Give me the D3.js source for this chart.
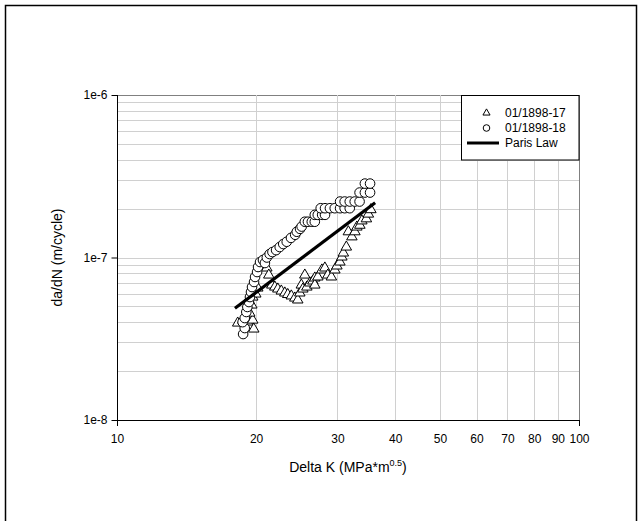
<!DOCTYPE html>
<html><head><meta charset="utf-8">
<script src="https://cdn.jsdelivr.net/npm/d3@7"></script>
<style>html,body{margin:0;padding:0;background:#fff}svg{display:block}</style>
</head><body>
<svg id="chart" width="642" height="521"></svg>
<script>
// ---- data ----
const xTickValues = [10, 20, 30, 40, 50, 60, 70, 80, 90, 100];
const yTickValues = [1e-8, 1e-7, 1e-6];
const yTickLabels = ["1e-8", "1e-7", "1e-6"];
const seriesNames = ["01/1898-17", "01/1898-18", "Paris Law"];

const dk17 = [18.25, 18.72, 19.19, 19.67, 19.77, 19.38, 19.58, 19.67, 19.97, 20.17,
  20.58, 21.10, 21.31, 21.63, 21.96, 22.29, 22.68, 23.08, 23.42, 23.84,
  24.26, 24.62, 24.87, 25.06, 25.25, 25.50, 25.76, 26.15, 26.54, 26.80,
  26.80, 27.21, 27.76, 28.18, 28.60, 29.11, 29.62, 29.92, 30.37, 30.67,
  30.90, 31.36, 31.68, 32.24, 32.73, 33.05, 33.55, 33.88, 34.66, 35.01, 35.44];
const rate17 = [3.95e-8, 4.12e-8, 4.01e-8, 4.12e-8, 3.63e-8, 4.55e-8, 5.10e-8, 5.71e-8, 5.96e-8, 6.49e-8,
  8.87e-8, 8.62e-8, 7.80e-8, 6.77e-8, 6.58e-8, 6.40e-8, 6.22e-8, 6.05e-8, 5.92e-8, 5.80e-8,
  5.63e-8, 5.48e-8, 6.05e-8, 6.77e-8, 6.40e-8, 7.80e-8, 6.58e-8, 6.97e-8, 7.17e-8, 7.48e-8,
  6.77e-8, 7.59e-8, 8.38e-8, 8.62e-8, 7.80e-8, 7.59e-8, 8.38e-8, 8.87e-8, 9.38e-8, 1.007e-7,
  1.066e-7, 1.16e-7, 1.44e-7, 1.34e-7, 1.44e-7, 1.54e-7, 1.58e-7, 1.68e-7, 1.73e-7, 1.85e-7, 1.97e-7];

const dk18 = [18.75, 18.9, 18.7, 18.9, 19.05, 19.15, 19.3, 19.4, 19.5, 19.6,
  19.8, 19.9, 20.1, 20.2, 20.4, 20.7, 20.9, 21.1, 21.4, 21.7,
  22.1, 22.5, 22.9, 23.3, 23.8, 24.3, 24.5, 24.9, 25.1, 25.5,
  25.9, 26.4, 26.8, 26.8, 27.2, 27.8, 28.2, 27.6, 28.2, 28.9,
  29.6, 30.4, 31.1, 31.9, 30.4, 31.1, 31.9, 32.7, 33.5, 33.5,
  34.4, 35.3, 34.4, 35.3];
const rate18 = [3.38e-8, 3.68e-8, 4.0e-8, 4.24e-8, 4.62e-8, 4.96e-8, 5.32e-8, 5.71e-8, 6.13e-8, 6.58e-8,
  7.07e-8, 7.59e-8, 8.14e-8, 8.74e-8, 9.38e-8, 9.65e-8, 9.25e-8, 1.0e-7, 1.05e-7, 1.08e-7,
  1.11e-7, 1.16e-7, 1.21e-7, 1.25e-7, 1.32e-7, 1.38e-7, 1.44e-7, 1.50e-7, 1.55e-7, 1.66e-7,
  1.66e-7, 1.66e-7, 1.66e-7, 1.83e-7, 1.83e-7, 1.83e-7, 1.83e-7, 2.01e-7, 2.01e-7, 2.01e-7,
  2.01e-7, 2.01e-7, 2.01e-7, 2.01e-7, 2.21e-7, 2.21e-7, 2.21e-7, 2.21e-7, 2.21e-7, 2.51e-7,
  2.51e-7, 2.51e-7, 2.85e-7, 2.85e-7];

const parisK = [18.0, 36.2];
const parisRate = [4.87e-8, 2.17e-7];

// ---- drawing ----
const svg = d3.select("#chart");
const font = "'Liberation Sans', Arial, sans-serif";
const L = 117, R = 579, T = 95, B = 420;

svg.append("rect").attr("x", 5.5).attr("y", 5.5).attr("width", 631).attr("height", 520)
  .attr("fill", "#fff").attr("stroke", "#000").attr("stroke-width", 1.5);

const x = d3.scaleLog().domain([10, 100]).range([L, R]);
const y = d3.scaleLog().domain([1e-8, 1e-6]).range([B, T]);

// gridlines
const g = svg.append("g");
const yGrid = [];
[1e-8, 1e-7].forEach(d => { for (let k = 1; k <= 9; k++) yGrid.push(d * k); });
yGrid.push(1e-6);
g.selectAll("line.yg").data(yGrid.filter(v => v > 1.0001e-8)).join("line")
  .attr("x1", L).attr("x2", R)
  .attr("y1", d => Math.round(y(d)) + 0.5).attr("y2", d => Math.round(y(d)) + 0.5)
  .attr("stroke", d => Math.abs(d - 1e-6) < 1e-12 ? "#808080" : "#d0d0d0").attr("stroke-width", 1);
g.selectAll("line.xg").data(xTickValues.slice(1)).join("line")
  .attr("y1", T).attr("y2", B)
  .attr("x1", d => Math.round(x(d)) + 0.5).attr("x2", d => Math.round(x(d)) + 0.5)
  .attr("stroke", d => d === 100 ? "#808080" : "#d0d0d0").attr("stroke-width", 1);

// axes
const xAxis = d3.axisBottom(x).tickValues(xTickValues).tickFormat(d3.format("d")).tickSize(0).tickPadding(14);
const gx = svg.append("g").attr("transform", `translate(0,${B + 0.5})`).call(xAxis);
gx.select(".domain").attr("stroke", "#000").attr("d", `M${L},0H${R}`);
gx.selectAll("text").attr("font-family", font).attr("font-size", 12).attr("fill", "#000");
// major decade ticks on x
svg.selectAll("line.xt").data([10, 100]).join("line")
  .attr("x1", d => Math.round(x(d)) + 0.5).attr("x2", d => Math.round(x(d)) + 0.5)
  .attr("y1", B).attr("y2", B + 6).attr("stroke", "#000");

const yAxis = d3.axisLeft(y).tickValues(yTickValues).tickFormat((d, i) => yTickLabels[i]).tickSize(6).tickPadding(4);
const gy = svg.append("g").attr("transform", `translate(${L + 0.5},0)`).call(yAxis);
gy.select(".domain").attr("stroke", "#000").attr("d", `M0,${T}V${B}`);
gy.selectAll("line").attr("stroke", "#000");
gy.selectAll("text").attr("font-family", font).attr("font-size", 12).attr("fill", "#000");

// axis titles
const xt = svg.append("text").attr("x", (L + R) / 2).attr("y", 472).attr("text-anchor", "middle")
  .attr("font-family", font).attr("font-size", 14).attr("fill", "#000");
xt.append("tspan").text("Delta K (MPa*m");
xt.append("tspan").attr("font-size", 9).attr("dy", -6).text("0.5");
xt.append("tspan").attr("dy", 6).text(")");
svg.append("text").attr("transform", `translate(62,${(T + B) / 2}) rotate(-90)`).attr("text-anchor", "middle")
  .attr("font-family", font).attr("font-size", 14).attr("fill", "#000").text("da/dN (m/cycle)");

// markers
const tri = d3.symbol().type(d3.symbolTriangle).size(48);
const plot = svg.append("g");
plot.selectAll("path.t").data(d3.range(dk17.length)).join("path")
  .attr("d", tri).attr("transform", i => `translate(${x(dk17[i])},${y(rate17[i])})`)
  .attr("fill", "#fff").attr("stroke", "#000").attr("stroke-width", 1);
plot.selectAll("circle.c").data(d3.range(dk18.length)).join("circle")
  .attr("cx", i => x(dk18[i])).attr("cy", i => y(rate18[i])).attr("r", 4.8)
  .attr("fill", "#fff").attr("stroke", "#000").attr("stroke-width", 1);

const line = d3.line().x(i => x(parisK[i])).y(i => y(parisRate[i]));
plot.append("path").attr("d", line(d3.range(parisK.length)))
  .attr("fill", "none").attr("stroke", "#000").attr("stroke-width", 3.2);

// legend
const lg = svg.append("g");
lg.append("rect").attr("x", 461.5).attr("y", 95.5).attr("width", 117.5).attr("height", 64.5)
  .attr("fill", "#fff").attr("stroke", "#000").attr("stroke-width", 1);
const rows = [113, 128, 143];
lg.append("path").attr("d", d3.symbol().type(d3.symbolTriangle).size(22)())
  .attr("transform", `translate(486.5,${rows[0]})`).attr("fill", "#fff").attr("stroke", "#000");
lg.append("circle").attr("cx", 486.5).attr("cy", rows[1]).attr("r", 3.3).attr("fill", "#fff").attr("stroke", "#000");
lg.append("line").attr("x1", 467).attr("x2", 499).attr("y1", rows[2]).attr("y2", rows[2])
  .attr("stroke", "#000").attr("stroke-width", 3);
lg.selectAll("text").data(seriesNames).join("text")
  .attr("x", 505).attr("y", (d, i) => rows[i] + 4)
  .attr("font-family", font).attr("font-size", 12).attr("fill", "#000").text(d => d);
</script>
</body></html>
